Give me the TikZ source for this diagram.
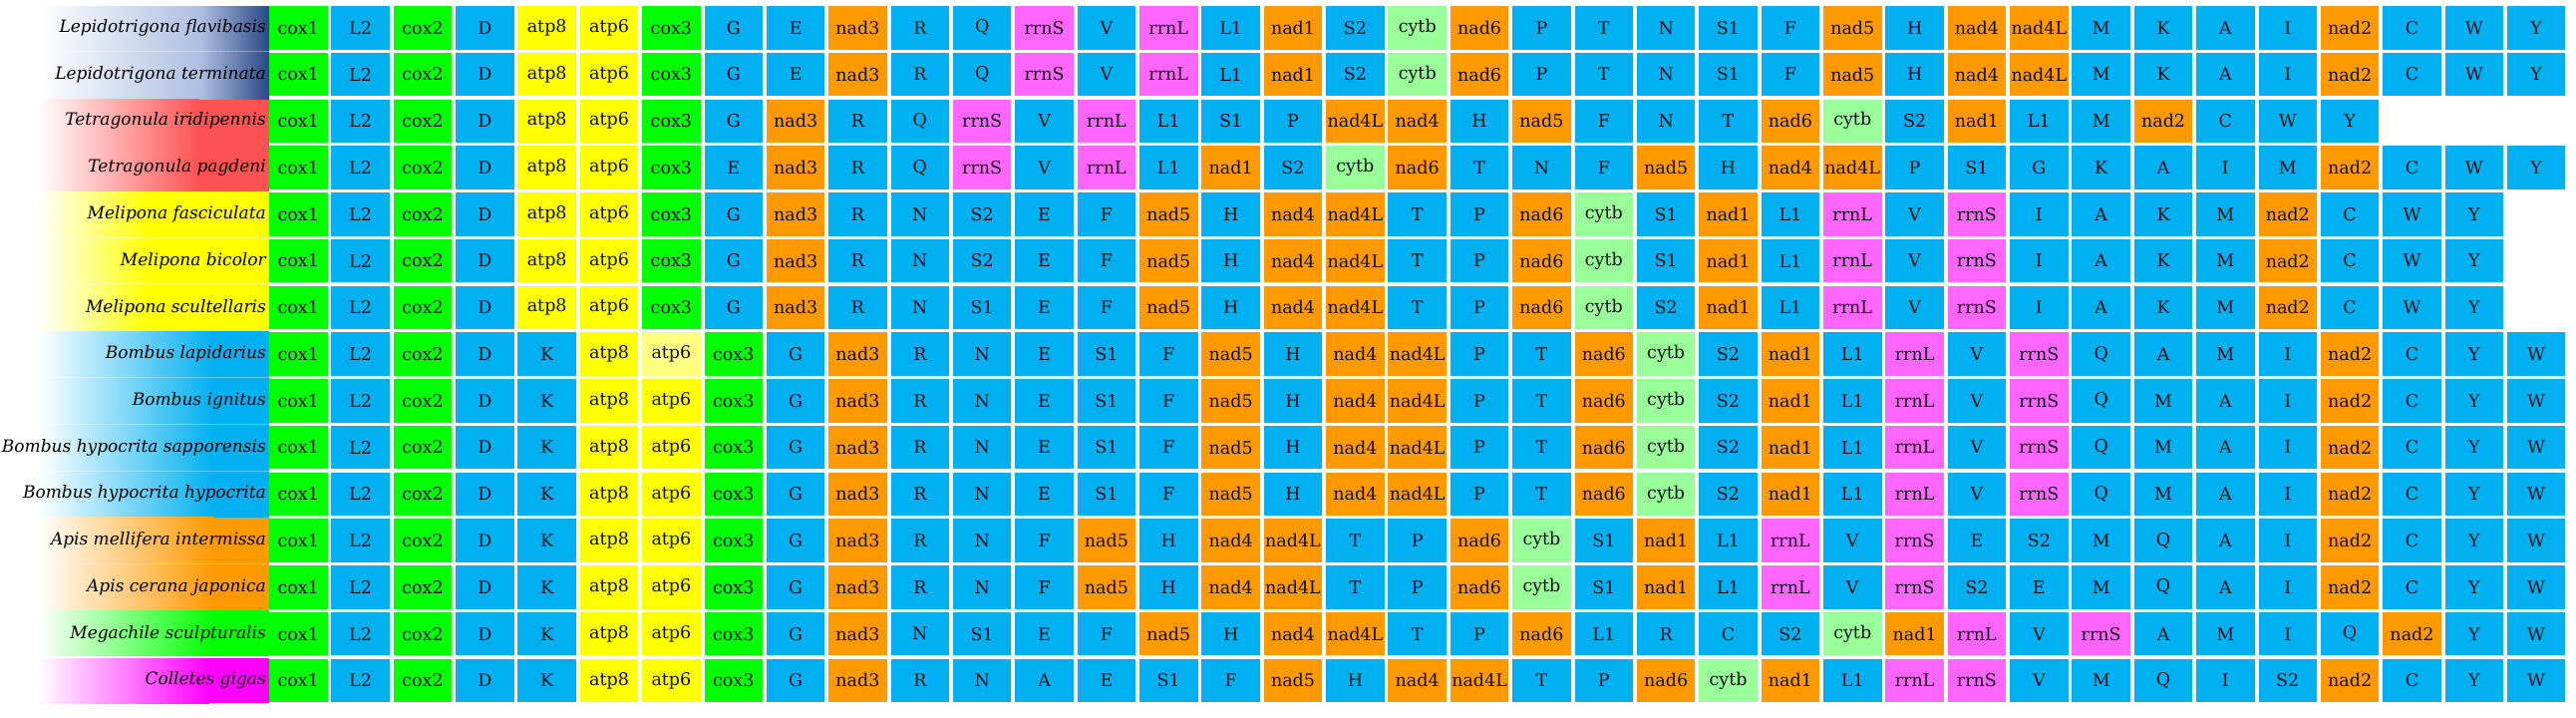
\documentclass[tikz,border=0pt]{standalone}
\usepackage{fontspec}
\newfontfamily\cellfnt{DejaVu Serif}
\definecolor{cgreen}{HTML}{00FF00}
\definecolor{cblue}{HTML}{00B0F0}
\definecolor{cyellow}{HTML}{FFFF00}
\definecolor{cpale}{HTML}{FFFF80}
\definecolor{corange}{HTML}{FF9900}
\definecolor{cpink}{HTML}{FF66FF}
\definecolor{cltgreen}{HTML}{99FF99}
\definecolor{navyband}{HTML}{2B4785}
\definecolor{lightband}{HTML}{AEC0E2}
\definecolor{redband}{HTML}{FF5252}
\definecolor{magband}{HTML}{FF00FF}
\definecolor{celltext}{HTML}{101018}

\newcommand\setgc[2]{\expandafter\def\csname gcol#1\endcsname{#2}}
\setgc{cox1}{cgreen}\setgc{cox2}{cgreen}\setgc{cox3}{cgreen}
\setgc{atp8}{cyellow}\setgc{atp6}{cyellow}
\setgc{nad1}{corange}\setgc{nad2}{corange}\setgc{nad3}{corange}
\setgc{nad4}{corange}\setgc{nad4L}{corange}\setgc{nad5}{corange}\setgc{nad6}{corange}
\setgc{rrnS}{cpink}\setgc{rrnL}{cpink}
\setgc{cytb}{cltgreen}

\tikzset{
  cell/.style={rectangle, minimum width=58.5pt, minimum height=43.5pt, inner sep=0pt,
    text=celltext, font=\cellfnt\fontsize{17.5}{19}\selectfont},
  sp/.style={anchor=east, inner sep=0pt, text=black,
    font=\cellfnt\itshape\fontsize{17}{19}\selectfont},
  rowline/.style={white, opacity=0.35, line width=1pt}
}

\newcommand\generow[2]{%
  \foreach \lab [count=\j] in {#2}{%
    \ifcsname gcol\lab\endcsname\edef\cellcol{\csname gcol\lab\endcsname}\else\def\cellcol{cblue}\fi
    \ifnum#1=8 \ifnum\j=7 \def\cellcol{cpale}\fi\fi
    \pgfmathsetmacro\xx{299.25+(\j-1)*62.36}
    \pgfmathsetmacro\yy{-(27.75+(#1-1)*46.76)}
    \node[cell, fill=\cellcol] (r#1c\j) at (\xx,\yy) {\lab};
  }%
}
\newcommand\species[2]{%
  \pgfmathsetmacro\yy{-(27.75+(#1-1)*46.76)}
  \node[sp] (s#1) at (267,\yy) {#2};
}

\begin{document}
\begin{tikzpicture}[x=1pt,y=1pt]
\useasboundingbox (0,0) rectangle (2584,-720);
\fill[white] (0,0) rectangle (2584,-720);

% label bands
\shade[left color=white, right color=lightband] (38,-6) rectangle (200,-99.5);
\shade[left color=lightband, right color=navyband] (200,-6) rectangle (270,-99.5);
\shade[left color=white, right color=redband] (38,-99.5) rectangle (200,-192);
\fill[redband] (199.5,-99.5) rectangle (270,-192);
\shade[left color=white, right color=cyellow] (38,-192) rectangle (150,-332);
\fill[cyellow] (149.5,-192) rectangle (270,-332);
\shade[left color=white, right color=cblue] (38,-332) rectangle (215,-518.5);
\fill[cblue] (214.5,-332) rectangle (270,-518.5);
\shade[left color=white, right color=corange] (38,-518.5) rectangle (215,-612);
\fill[corange] (214.5,-518.5) rectangle (270,-612);
\shade[left color=white, right color=cgreen] (38,-612) rectangle (215,-657.5);
\fill[cgreen] (214.5,-612) rectangle (270,-657.5);
\shade[left color=white, right color=magband] (38,-660) rectangle (210,-705);
\fill[magband] (209.5,-660) rectangle (270,-705);

% faint row separators in bands
\foreach \k in {1,5,6,8,9,10,12}{
  \pgfmathsetmacro\yl{-(6+\k*46.76-1.6)}
  \draw[rowline] (38,\yl) -- (270,\yl);
}

\species{1}{Lepidotrigona flavibasis}
\species{2}{Lepidotrigona terminata}
\species{3}{Tetragonula iridipennis}
\species{4}{Tetragonula pagdeni}
\species{5}{Melipona fasciculata}
\species{6}{Melipona bicolor}
\species{7}{Melipona scultellaris}
\species{8}{Bombus lapidarius}
\species{9}{Bombus ignitus}
\species{10}{Bombus hypocrita sapporensis}
\species{11}{Bombus hypocrita hypocrita}
\species{12}{Apis mellifera intermissa}
\species{13}{Apis cerana japonica}
\species{14}{Megachile sculpturalis}
\species{15}{Colletes gigas}

\generow{1}{cox1,L2,cox2,D,atp8,atp6,cox3,G,E,nad3,R,Q,rrnS,V,rrnL,L1,nad1,S2,cytb,nad6,P,T,N,S1,F,nad5,H,nad4,nad4L,M,K,A,I,nad2,C,W,Y}
\generow{2}{cox1,L2,cox2,D,atp8,atp6,cox3,G,E,nad3,R,Q,rrnS,V,rrnL,L1,nad1,S2,cytb,nad6,P,T,N,S1,F,nad5,H,nad4,nad4L,M,K,A,I,nad2,C,W,Y}
\generow{3}{cox1,L2,cox2,D,atp8,atp6,cox3,G,nad3,R,Q,rrnS,V,rrnL,L1,S1,P,nad4L,nad4,H,nad5,F,N,T,nad6,cytb,S2,nad1,L1,M,nad2,C,W,Y}
\generow{4}{cox1,L2,cox2,D,atp8,atp6,cox3,E,nad3,R,Q,rrnS,V,rrnL,L1,nad1,S2,cytb,nad6,T,N,F,nad5,H,nad4,nad4L,P,S1,G,K,A,I,M,nad2,C,W,Y}
\generow{5}{cox1,L2,cox2,D,atp8,atp6,cox3,G,nad3,R,N,S2,E,F,nad5,H,nad4,nad4L,T,P,nad6,cytb,S1,nad1,L1,rrnL,V,rrnS,I,A,K,M,nad2,C,W,Y}
\generow{6}{cox1,L2,cox2,D,atp8,atp6,cox3,G,nad3,R,N,S2,E,F,nad5,H,nad4,nad4L,T,P,nad6,cytb,S1,nad1,L1,rrnL,V,rrnS,I,A,K,M,nad2,C,W,Y}
\generow{7}{cox1,L2,cox2,D,atp8,atp6,cox3,G,nad3,R,N,S1,E,F,nad5,H,nad4,nad4L,T,P,nad6,cytb,S2,nad1,L1,rrnL,V,rrnS,I,A,K,M,nad2,C,W,Y}
\generow{8}{cox1,L2,cox2,D,K,atp8,atp6,cox3,G,nad3,R,N,E,S1,F,nad5,H,nad4,nad4L,P,T,nad6,cytb,S2,nad1,L1,rrnL,V,rrnS,Q,A,M,I,nad2,C,Y,W}
\generow{9}{cox1,L2,cox2,D,K,atp8,atp6,cox3,G,nad3,R,N,E,S1,F,nad5,H,nad4,nad4L,P,T,nad6,cytb,S2,nad1,L1,rrnL,V,rrnS,Q,M,A,I,nad2,C,Y,W}
\generow{10}{cox1,L2,cox2,D,K,atp8,atp6,cox3,G,nad3,R,N,E,S1,F,nad5,H,nad4,nad4L,P,T,nad6,cytb,S2,nad1,L1,rrnL,V,rrnS,Q,M,A,I,nad2,C,Y,W}
\generow{11}{cox1,L2,cox2,D,K,atp8,atp6,cox3,G,nad3,R,N,E,S1,F,nad5,H,nad4,nad4L,P,T,nad6,cytb,S2,nad1,L1,rrnL,V,rrnS,Q,M,A,I,nad2,C,Y,W}
\generow{12}{cox1,L2,cox2,D,K,atp8,atp6,cox3,G,nad3,R,N,F,nad5,H,nad4,nad4L,T,P,nad6,cytb,S1,nad1,L1,rrnL,V,rrnS,E,S2,M,Q,A,I,nad2,C,Y,W}
\generow{13}{cox1,L2,cox2,D,K,atp8,atp6,cox3,G,nad3,R,N,F,nad5,H,nad4,nad4L,T,P,nad6,cytb,S1,nad1,L1,rrnL,V,rrnS,S2,E,M,Q,A,I,nad2,C,Y,W}
\generow{14}{cox1,L2,cox2,D,K,atp8,atp6,cox3,G,nad3,N,S1,E,F,nad5,H,nad4,nad4L,T,P,nad6,L1,R,C,S2,cytb,nad1,rrnL,V,rrnS,A,M,I,Q,nad2,Y,W}
\generow{15}{cox1,L2,cox2,D,K,atp8,atp6,cox3,G,nad3,R,N,A,E,S1,F,nad5,H,nad4,nad4L,T,P,nad6,cytb,nad1,L1,rrnL,rrnS,V,M,Q,I,S2,nad2,C,Y,W}
\end{tikzpicture}
\end{document}
